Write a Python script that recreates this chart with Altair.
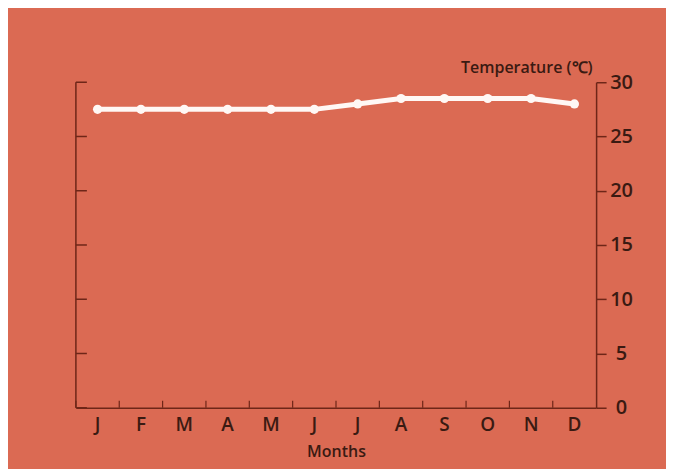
import altair as alt
import pandas as pd

months = ["Jan", "Feb", "Mar", "Apr", "May", "Jun", "Jul", "Aug", "Sep", "Oct", "Nov", "Dec"]
temps = [27.5, 27.5, 27.5, 27.5, 27.5, 27.5, 28.0, 28.5, 28.5, 28.5, 28.5, 28.0]
y_ticks = [0, 5, 10, 15, 20, 25, 30]

BG = "#DB6A53"
INK = "#3a1a12"
AXIS = "#6e2618"
FONT = "Open Sans"
W, H = 521, 326

df = pd.DataFrame({"month": months, "temp": temps})
ticks_df = pd.DataFrame({"temp": y_ticks})
frame_df = pd.DataFrame({"temp": [0], "temp2": [30]})

y_axis = alt.Axis(
    orient="right", values=y_ticks, grid=False,
    domainColor=AXIS, domainWidth=1.5, tickColor=AXIS, tickWidth=1.5, tickSize=10,
    labelAlign="center", labelBaseline="middle", labelPadding=15,
    labelFont=FONT, labelFontSize=20, labelFontWeight=600, labelColor=INK,
    title="Temperature (℃)", titleAngle=0, titleAlign="right", titleBaseline="alphabetic",
    titleX=-4, titleY=-10, titleFont=FONT, titleFontSize=16, titleFontWeight=600, titleColor=INK,
)
y_scale = alt.Scale(domain=[0, 30], nice=False, zero=True)

x_axis = alt.Axis(
    orient="bottom", ticks=False, tickSize=0, grid=False,
    domainColor=AXIS, domainWidth=1.5,
    labelExpr="substring(datum.label, 0, 1)", labelAngle=0,
    labelFont=FONT, labelFontSize=19, labelFontWeight=600, labelColor=INK, labelPadding=8,
    title="Months", titleFont=FONT, titleFontSize=16, titleFontWeight=600, titleColor=INK,
    titlePadding=9,
)
x_scale = alt.Scale(paddingInner=0, paddingOuter=0)

base = alt.Chart(df)

line = base.mark_line(color="#FFF8F5", strokeWidth=5).encode(
    x=alt.X("month:N", sort=months, scale=x_scale, axis=x_axis),
    y=alt.Y("temp:Q", scale=y_scale, axis=y_axis),
)
points = base.mark_point(filled=True, color="#FFF8F5", opacity=1, size=85, shape="circle").encode(
    x=alt.X("month:N", sort=months, scale=x_scale, axis=x_axis),
    y=alt.Y("temp:Q", scale=y_scale, axis=y_axis),
)

left_ticks = alt.Chart(ticks_df).mark_rule(color=AXIS, strokeWidth=1.5).encode(
    y=alt.Y("temp:Q", scale=y_scale, axis=y_axis),
    x=alt.value(0), x2=alt.value(11),
)
left_line = alt.Chart(frame_df).mark_rule(color=AXIS, strokeWidth=1.5).encode(
    y=alt.Y("temp:Q", scale=y_scale, axis=y_axis), y2="temp2:Q",
    x=alt.value(0),
)
bottom_ticks = base.mark_rule(color=AXIS, strokeWidth=1.2).encode(
    x=alt.X("month:N", sort=months, scale=x_scale, axis=x_axis, bandPosition=0),
    y=alt.value(H - 7), y2=alt.value(H),
)

chart = alt.layer(left_line, left_ticks, bottom_ticks, line, points).properties(
    width=W, height=H, background=BG,
    padding={"left": 68, "top": 74, "right": 70, "bottom": 61},
    autosize=alt.AutoSizeParams(type="none"),
).configure_view(stroke=None)

chart.save("out.html", embed_options={"renderer": "svg", "actions": False})
